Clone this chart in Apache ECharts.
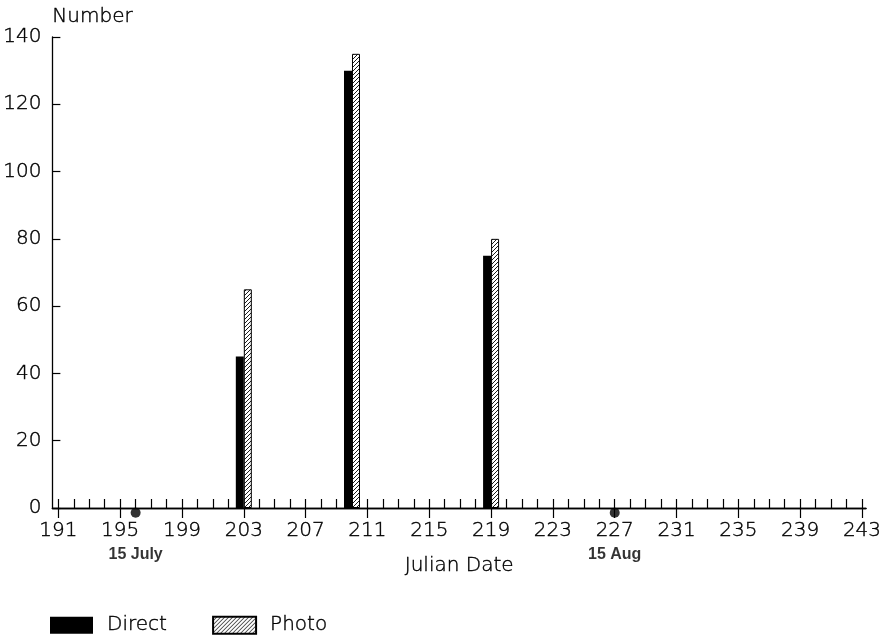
<!DOCTYPE html>
<html>
<head>
<meta charset="utf-8">
<script src="https://cdn.jsdelivr.net/npm/echarts@6/dist/echarts.min.js"></script>
<style>
  html, body { margin: 0; padding: 0; background: #fff; }
  #chart { width: 892px; height: 639px; }
</style>
</head>
<body>
<div id="chart"></div>
<script>
// Survey counts by Julian date
const days = [203, 210, 219];
const direct = [45, 130, 75];
const photo = [65, 135, 80];

// Calendar reference marks on the date axis
const markDays = [196, 227];
const markNames = ['15 July', '15 Aug'];

// Axis ticks
const dailyTicks = [];
for (let d = 191; d <= 243; d++) dailyTicks.push(d);
const labelTicks = [191, 195, 199, 203, 207, 211, 215, 219, 223, 227, 231, 235, 239, 243];

// Diagonal hatch fill for the photo series
function hatch() {
  const c = document.createElement('canvas');
  c.width = 4; c.height = 4;
  const g = c.getContext('2d');
  g.fillStyle = '#fff';
  g.fillRect(0, 0, 4, 4);
  g.strokeStyle = '#000';
  g.lineWidth = 0.9;
  g.beginPath();
  g.moveTo(0, 4); g.lineTo(4, 0);
  g.moveTo(-1, 1); g.lineTo(1, -1);
  g.moveTo(3, 5); g.lineTo(5, 3);
  g.stroke();
  return { image: c, repeat: 'repeat' };
}

const FONT = 'DejaVu Sans';
const thinText = (size) => ({
  fontFamily: FONT, fontWeight: 200, fontSize: size, color: '#000',
  textBorderColor: '#000', textBorderWidth: 0.4
});

const chart = echarts.init(document.getElementById('chart'));

const xBase = {
  type: 'value',
  position: 'bottom',
  min: 190.612,
  max: 243.26,
  splitLine: { show: false },
  axisLine: { show: true, onZero: false, lineStyle: { color: '#000', width: 1.3 } }
};

chart.setOption({
  animation: false,
  backgroundColor: '#fff',
  grid: { left: 52, right: 26, top: 37, bottom: 131 },
  legend: {
    left: 50,
    top: 615,
    padding: 0,
    icon: 'rect',
    itemWidth: 43,
    itemHeight: 17,
    itemGap: 45,
    textStyle: Object.assign(thinText(20), { padding: [0, 0, 0, 9] }),
    data: ['Direct', 'Photo']
  },
  xAxis: [
    Object.assign({}, xBase, {
      name: 'Julian Date',
      nameLocation: 'middle',
      nameGap: 48,
      nameTextStyle: thinText(20),
      axisTick: { show: true, inside: false, length: 10, customValues: labelTicks, lineStyle: { color: '#000', width: 1.2 } },
      axisLabel: Object.assign({ show: true, customValues: labelTicks, margin: 13 }, thinText(20))
    }),
    Object.assign({}, xBase, {
      axisTick: { show: true, inside: true, length: 9, customValues: dailyTicks, lineStyle: { color: '#000', width: 1.2 } },
      axisLabel: { show: false }
    })
  ],
  yAxis: {
    type: 'value',
    min: 0,
    max: 140,
    interval: 20,
    name: 'Number',
    nameGap: 10,
    nameTextStyle: Object.assign(thinText(20), { align: 'left' }),
    splitLine: { show: false },
    axisLine: { show: true, lineStyle: { color: '#000', width: 1.3 } },
    axisTick: { show: true, inside: true, length: 8, lineStyle: { color: '#000', width: 1.2 } },
    axisLabel: Object.assign({ margin: 11 }, thinText(20))
  },
  series: [
    {
      name: 'Direct',
      type: 'bar',
      xAxisIndex: 0,
      barWidth: 8,
      barGap: '0%',
      itemStyle: { color: '#000' },
      data: days.map((d, i) => [d, direct[i]])
    },
    {
      name: 'Photo',
      type: 'bar',
      xAxisIndex: 0,
      barWidth: 8,
      barGap: '0%',
      itemStyle: { color: hatch(), borderColor: '#000', borderWidth: 1 },
      data: days.map((d, i) => [d, photo[i]])
    },
    {
      name: 'marks',
      type: 'scatter',
      xAxisIndex: 0,
      clip: false,
      symbol: 'circle',
      symbolSize: 10,
      itemStyle: { color: '#000' },
      label: {
        show: true,
        position: 'bottom',
        distance: 29,
        formatter: p => markNames[p.dataIndex],
        fontFamily: 'Liberation Sans',
        fontWeight: 'bold',
        fontSize: 16,
        color: '#000'
      },
      data: markDays.map(d => [d, -1.4])
    }
  ]
});
</script>
</body>
</html>
